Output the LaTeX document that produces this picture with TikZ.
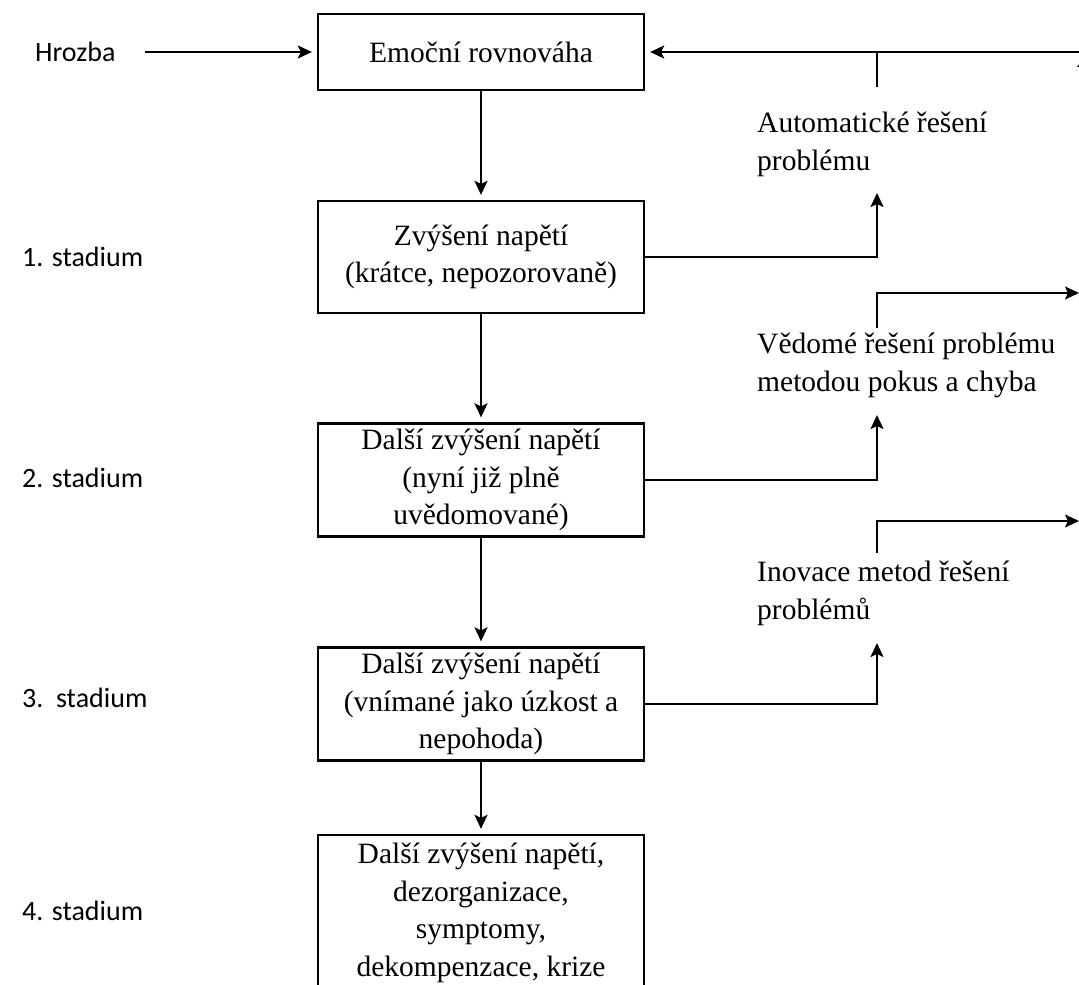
\documentclass[tikz,border=0pt]{standalone}
\usepackage{fontspec}
\setmainfont{Liberation Serif}
\newfontfamily\labelfont{Carlito}
\usetikzlibrary{arrows.meta}
\begin{document}
\begin{tikzpicture}[x=1pt,y=-1pt,
  line/.style={line width=2pt},
  arr/.style={line, -{Stealth[length=14pt,width=13pt,inset=3pt]}, shorten >=5pt},
  stagebox/.style={draw, line width=2.3pt, minimum width=326pt, inner sep=0pt,
    align=center, font=\fontsize{29.5}{37.5}\selectfont},
  side/.style={align=left, inner sep=0pt, font=\fontsize{29.5}{37.5}\selectfont},
  stage/.style={anchor=west, inner sep=0pt, font=\labelfont\fontsize{28}{34}\selectfont}]
\useasboundingbox (0,0) rectangle (1079,985);
\clip (0,0) rectangle (1079,985);

% main column of stages
\node[stagebox, minimum height=76pt]  (emo) at (481,52)  {Emoční rovnováha};
\node[stagebox, minimum height=112pt] (s1)  at (481,257) {Zvýšení napětí\\(krátce, nepozorovaně)};
\node[stagebox, minimum height=113pt] (s2)  at (481,480) {Další zvýšení napětí\\(nyní již plně\\uvědomované)};
\node[stagebox, minimum height=113pt] (s3)  at (481,704) {Další zvýšení napětí\\(vnímané jako úzkost a\\nepohoda)};
\node[stagebox, minimum height=172pt, text depth=23pt] (s4) at (481,921)
  {Další zvýšení napětí,\\dezorganizace,\\symptomy,\\dekompenzace, krize};

% left-hand labels
\node[stage] (hrozba) at (35,52)  {Hrozba};
\node[stage] (st1)    at (22,257) {1. stadium};
\node[stage] (st2)    at (22,478) {2. stadium};
\node[stage] (st3)    at (22,698) {3.\ \ stadium};
\node[stage] (st4)    at (22,911) {4. stadium};

% ways of coping on the right
\node[side, anchor=north west] (auto) at (757,112) {Automatické řešení\\problému};
\node[side, anchor=north west] (trial) at (757,333) {Vědomé řešení problému\\metodou pokus a chyba};
\node[side, anchor=north west] (innov) at (757,561) {Inovace metod řešení\\problémů};

% junction and exit points
\coordinate (jtop) at (877,52);
\coordinate (rtop) at (1095,52);
\coordinate (a1) at (877,188);
\coordinate (a2) at (877,410);
\coordinate (a3) at (877,638);
\coordinate (o2) at (1079,293);
\coordinate (o3) at (1079,521);
\coordinate (upin) at (1087,54);
\coordinate (upfrom) at (1087,200);

% downward flow
\draw[arr] ([xshift=29pt]hrozba.east) -- (emo.west);
\draw[arr] (emo.south) -- (s1.north);
\draw[arr] (s1.south) -- (s2.north);
\draw[arr] (s2.south) -- (s3.north);
\draw[arr] (s3.south) -- (s4.north);

% coping branches
\draw[arr] (s1.east) -| (a1);
\draw[arr] (s2.east) -| (a2);
\draw[arr] (s3.east) -| (a3);

\draw[arr] (rtop) -- (emo.east);
\draw[line] (jtop) -- (877,87);
\draw[arr, shorten >=0pt] (877,328) |- (o2);
\draw[arr, shorten >=0pt] (877,553) |- (o3);
\draw[line, -{Stealth[length=13pt,width=20pt,inset=2pt]}] (upfrom) -- (upin);
\end{tikzpicture}
\end{document}
